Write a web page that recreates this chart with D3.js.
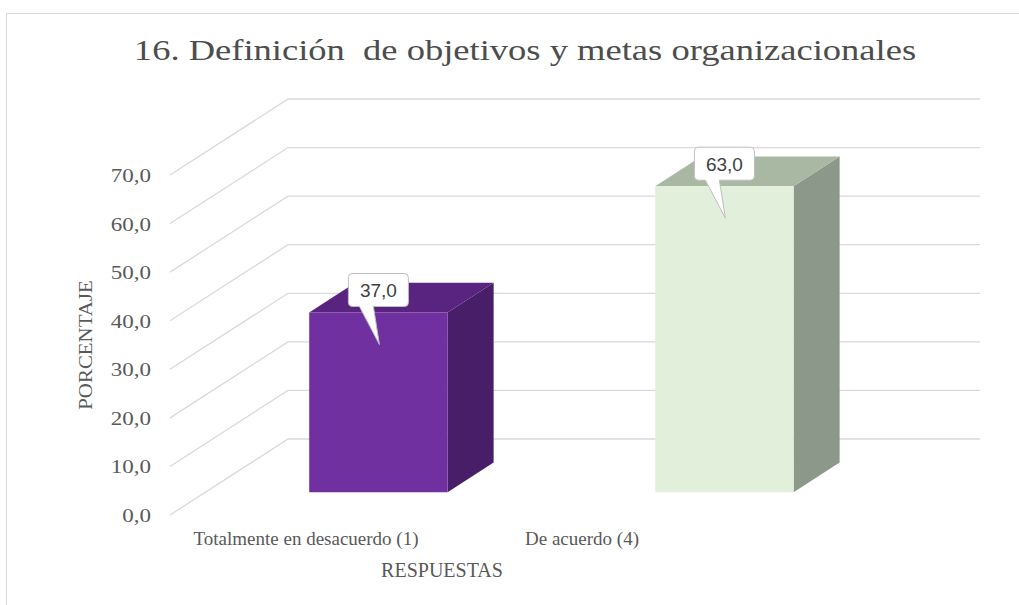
<!DOCTYPE html>
<html>
<head>
<meta charset="utf-8">
<script src="https://cdn.jsdelivr.net/npm/d3@7"></script>
<style>
  body { margin: 0; background: #fff; }
  svg { display: block; }
</style>
</head>
<body>
<div id="chart"></div>
<script>
// 3D column chart - objetivos y metas organizacionales

const categories = ["Totalmente en desacuerdo (1)", "De acuerdo (4)"];
const values = [37.0, 63.0];
const yTicks = [0, 10, 20, 30, 40, 50, 60, 70];
const frontColors = ["#7030A0", "#E2EFDA"];
const topColors = ["#582480", "#A9B8A3"];
const sideColors = ["#481E68", "#8C9889"];

const W = 1019, H = 605;
const fmt = d => d3.format(".1f")(d).replace(".", ",");

const svg = d3.select("#chart").append("svg")
  .attr("width", W)
  .attr("height", H);

// chart border
svg.append("rect")
  .attr("x", 6.5).attr("y", 13.5)
  .attr("width", 1030).attr("height", 620)
  .attr("fill", "#fff")
  .attr("stroke", "#D9D9D9");

// scales (front plane of the 3D box)
const y = d3.scaleLinear().domain([0, 70]).range([515, 175]);
const x = d3.scaleBand().domain(categories).range([170, 862]).padding(0);
const depth = { dx: 118, dy: -76 };      // full depth of the box
const barDepth = [0.3, 0.69];             // bars sit inside the depth
const barW = x.bandwidth() * 0.4;

const proj = (px, v, t) => [px + depth.dx * t, y(v) + depth.dy * t];

// gridlines: side wall diagonal + back wall horizontal
const grid = svg.append("g");
yTicks.forEach(v => {
  const a = proj(170, v, 0), b = proj(170, v, 1), c = proj(862, v, 1);
  grid.append("path")
    .attr("d", `M${a}L${b}L${c}`)
    .attr("fill", "none")
    .attr("stroke", "#D9D9D9")
    .attr("stroke-width", 1.3);
});

// bars
const bars = svg.append("g");
categories.forEach((cat, i) => {
  const cx = x(cat) + x.bandwidth() / 2;
  const x0 = cx - barW / 2, x1 = cx + barW / 2;
  const t0 = barDepth[0], t1 = barDepth[1];
  const v = values[i];

  const side = [proj(x1, v, t0), proj(x1, v, t1), proj(x1, 0, t1), proj(x1, 0, t0)];
  const top = [proj(x0, v, t0), proj(x1, v, t0), proj(x1, v, t1), proj(x0, v, t1)];
  const front = [proj(x0, v, t0), proj(x1, v, t0), proj(x1, 0, t0), proj(x0, 0, t0)];

  bars.append("path").attr("d", "M" + side.join("L") + "Z").attr("fill", sideColors[i]);
  bars.append("path").attr("d", "M" + top.join("L") + "Z").attr("fill", topColors[i]);
  bars.append("path").attr("d", "M" + front.join("L") + "Z").attr("fill", frontColors[i]);
});

// data label callouts
const labels = svg.append("g");
categories.forEach((cat, i) => {
  const v = values[i];
  const [fx, fy] = proj(x(cat) + x.bandwidth() / 2, v, barDepth[0]);
  const bx0 = fx - 30, bx1 = fx + 30;
  const by0 = fy - 39, by1 = fy - 6;
  const r = 4;
  const tipX = fx + 1, tipY = fy + 32;
  const path = `M${bx0 + r},${by0}H${bx1 - r}Q${bx1},${by0} ${bx1},${by0 + r}` +
    `V${by1 - r}Q${bx1},${by1} ${bx1 - r},${by1}` +
    `H${fx - 5}L${tipX},${tipY}L${fx - 19},${by1}` +
    `H${bx0 + r}Q${bx0},${by1} ${bx0},${by1 - r}V${by0 + r}Q${bx0},${by0} ${bx0 + r},${by0}Z`;
  labels.append("path")
    .attr("d", path)
    .attr("fill", "#fff")
    .attr("stroke", "#BFBFBF")
    .attr("stroke-width", 1);
  labels.append("text")
    .attr("x", fx)
    .attr("y", (by0 + by1) / 2 + 7)
    .attr("text-anchor", "middle")
    .style("font-family", "'Liberation Sans', Arial, sans-serif")
    .style("font-size", "19px")
    .style("fill", "#404040")
    .text(fmt(v));
});

// y tick labels (serif, slightly wide)
const serif = "'Liberation Serif', 'Times New Roman', serif";
svg.append("g").selectAll("text")
  .data(yTicks)
  .enter()
  .append("text")
  .attr("transform", d => `translate(151,${y(d) + 7}) scale(1.28,1)`)
  .attr("text-anchor", "end")
  .style("font-family", serif)
  .style("font-size", "18px")
  .style("fill", "#595959")
  .text(d => fmt(d));

// category labels
const labelX = d3.scalePoint().domain(categories).range([306, 582]);
svg.append("g").selectAll("text")
  .data(categories)
  .enter()
  .append("text")
  .attr("x", d => labelX(d))
  .attr("y", 545)
  .attr("text-anchor", "middle")
  .style("font-family", serif)
  .style("font-size", "19px")
  .style("fill", "#595959")
  .text(d => d);

// axis titles
svg.append("text")
  .attr("x", 442)
  .attr("y", 577)
  .attr("text-anchor", "middle")
  .style("font-family", serif)
  .style("font-size", "20px")
  .style("fill", "#595959")
  .text("RESPUESTAS");

svg.append("text")
  .attr("transform", "translate(92,345) rotate(-90) scale(1.1,1)")
  .attr("text-anchor", "middle")
  .style("font-family", serif)
  .style("font-size", "19px")
  .style("fill", "#595959")
  .text("PORCENTAJE");

// chart title
svg.append("text")
  .attr("transform", "translate(525,60) scale(1.26,1)")
  .attr("text-anchor", "middle")
  .style("font-family", serif)
  .style("font-size", "29px")
  .style("fill", "#4D4D4D")
  .style("white-space", "pre")
  .attr("xml:space", "preserve")
  .text("16. Definición  de objetivos y metas organizacionales");
</script>
</body>
</html>
